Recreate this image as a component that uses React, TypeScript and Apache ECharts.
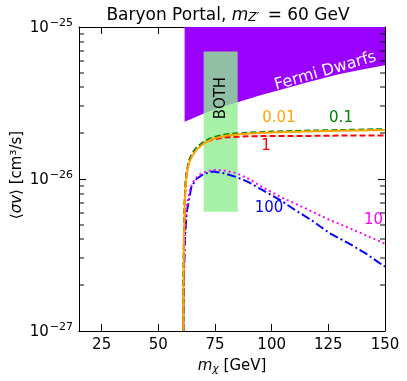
import React, { useEffect, useRef } from "react";
import * as echarts from "echarts";

const xTicks = [25, 50, 75, 100, 125, 150];
const yMinor = [2e-27, 3e-27, 4e-27, 5e-27, 6e-27, 7e-27, 8e-27, 9e-27, 2e-26, 3e-26, 4e-26, 5e-26, 6e-26, 7e-26, 8e-26, 9e-26];

// Fermi Dwarfs excluded region: lower boundary (filled to top)
const fermiBoundary: [number, number][] = [
  [61.6, 2.38e-26], [65, 2.5e-26], [69.6, 2.68e-26], [77, 2.95e-26], [85, 3.2e-26],
  [95, 3.55e-26], [103.6, 3.85e-26], [115, 4.3e-26], [130, 4.9e-26], [140, 5.25e-26], [150, 5.6e-26],
];
// BOTH band: [xmin, xmax, ymin, ymax]
const bothBand = [70, 85, 6.1e-27, 6.9e-26];

const curve001: [number, number][] = [
  [61.0, 1e-27], [61.1, 2e-27], [61.3, 4e-27], [61.6, 6.5e-27], [62.0, 9e-27], [62.5, 1.07e-26],
  [63.5, 1.27e-26], [65, 1.42e-26], [67, 1.57e-26], [70, 1.71e-26], [74, 1.84e-26], [80, 1.93e-26],
  [90, 1.99e-26], [100, 2.02e-26], [115, 2.05e-26], [130, 2.08e-26], [150, 2.1e-26],
];
const curve01: [number, number][] = [
  [61.0, 1e-27], [61.1, 2e-27], [61.3, 4.1e-27], [61.6, 6.7e-27], [62.0, 9.3e-27], [62.5, 1.1e-26],
  [63.5, 1.31e-26], [65, 1.47e-26], [67, 1.62e-26], [70, 1.76e-26], [74, 1.88e-26], [80, 1.97e-26],
  [90, 2.02e-26], [100, 2.05e-26], [115, 2.08e-26], [130, 2.1e-26], [150, 2.13e-26],
];
const curve1: [number, number][] = [
  [61.0, 1e-27], [61.1, 2.1e-27], [61.3, 4.2e-27], [61.6, 6.9e-27], [62.0, 9.5e-27], [62.5, 1.12e-26],
  [63.5, 1.32e-26], [65, 1.47e-26], [67, 1.61e-26], [70, 1.73e-26], [74, 1.82e-26], [80, 1.88e-26],
  [90, 1.91e-26], [100, 1.92e-26], [115, 1.92e-26], [130, 1.93e-26], [150, 1.93e-26],
];
const curve10: [number, number][] = [
  [61.0, 1e-27], [61.3, 2.5e-27], [61.8, 4.5e-27], [62.5, 6.5e-27], [64, 8.6e-27], [66, 1.0e-26],
  [68.3, 1.07e-26], [72, 1.13e-26], [75.6, 1.15e-26], [80, 1.13e-26], [84.5, 1.09e-26], [90, 1.0e-26],
  [95, 9.0e-27], [103.6, 7.66e-27], [115, 6.4e-27], [125.6, 5.37e-27], [135, 4.7e-27], [145, 4.05e-27], [150, 3.75e-27],
];
const curve100: [number, number][] = [
  [61.0, 1e-27], [61.3, 2.3e-27], [61.8, 4.2e-27], [62.5, 6e-27], [64.6, 8.9e-27], [66.8, 1.0e-26],
  [70, 1.08e-26], [74, 1.12e-26], [78, 1.1e-26], [84.5, 1.03e-26], [90, 9.5e-27], [95, 8.6e-27],
  [103.6, 7.3e-27], [110, 6.3e-27], [118, 5.3e-27], [125.6, 4.4e-27], [135, 3.7e-27], [142, 3.2e-27],
  [147.7, 2.79e-27], [150, 2.65e-27],
];

const FONT = "DejaVu Sans";
// y values are plotted in units of 1e-27 cm^3/s to avoid float-rounding trouble at tiny magnitudes
const UNIT = 1e-27;
const UNIT_EXP = -27;
const sc = (pts: [number, number][]) => pts.map(([x, y]) => [x, y / UNIT]);

export default function App() {
  const ref = useRef<HTMLDivElement>(null);
  useEffect(() => {
    if (!ref.current) return;
    const chart = echarts.init(ref.current, null, { renderer: "svg" });
    const XMIN = 15, XMAX = 150;
    const lineSeries = (name: string, data: [number, number][], color: string, type: any) => ({
      name, type: "line", data: sc(data), showSymbol: false, symbol: "none", z: 5, clip: true,
      lineStyle: { color, width: 2, type },
    });
    const supFmt = (v: number) => {
      const e = Math.round(Math.log10(v)) + UNIT_EXP;
      return `{b|10}{s|−${-e}}`;
    };
    const yCommon = {
      type: "log", logBase: 10, min: 1, max: 100,
      axisLine: { show: true, lineStyle: { color: "#000", width: 1 } },
      axisTick: { inside: true, length: 7, lineStyle: { color: "#000" } },
      splitLine: { show: false },
    };
    chart.setOption({
      animation: false,
      grid: { left: 79, right: 22, top: 27, bottom: 50 },
      xAxis: [
        {
          type: "value", min: XMIN, max: XMAX, position: "bottom",
          axisLine: { lineStyle: { color: "#000", width: 1 } },
          axisTick: { inside: true, length: 7, lineStyle: { color: "#000" }, customValues: xTicks },
          axisLabel: { color: "#000", fontSize: 15, fontFamily: FONT, margin: 5, customValues: xTicks },
          splitLine: { show: false },
        },
        {
          type: "value", min: XMIN, max: XMAX, position: "top",
          axisLine: { lineStyle: { color: "#000", width: 1 } },
          axisTick: { inside: true, length: 7, lineStyle: { color: "#000" }, customValues: xTicks },
          axisLabel: { show: false },
          splitLine: { show: false },
        },
      ],
      yAxis: [
        {
          ...yCommon, position: "left",
          axisLabel: {
            formatter: supFmt, margin: 6,
            rich: {
              b: { fontSize: 15, fontFamily: FONT, color: "#000" },
              s: { fontSize: 11, fontFamily: FONT, color: "#000", padding: [0, 0, 9, 1] },
            },
          },
        },
        { ...yCommon, position: "right", axisLabel: { show: false } },
      ],
      series: [
        {
          name: "Fermi", type: "line", data: sc(fermiBoundary), symbol: "none", z: 1,
          lineStyle: { width: 0 },
          areaStyle: { color: "#9b00ff", opacity: 1, origin: "end" },
        },
        {
          name: "BOTH", type: "custom", z: 2, clip: true,
          data: [[bothBand[0], bothBand[1], bothBand[2] / UNIT, bothBand[3] / UNIT]],
          encode: { x: [0, 1], y: [2, 3] },
          renderItem: (params: any, api: any) => {
            const p1 = api.coord([api.value(0), api.value(3)]);
            const p2 = api.coord([api.value(1), api.value(2)]);
            return {
              type: "rect",
              shape: { x: p1[0], y: p1[1], width: p2[0] - p1[0], height: p2[1] - p1[1] },
              style: { fill: "rgba(144,238,144,0.8)" },
            };
          },
        },
        {
          name: "minorTicks", type: "custom", z: 30,
          data: [[100, 10]],
          encode: { x: 0, y: 1 },
          renderItem: (params: any, api: any) => {
            const children: any[] = [];
            yMinor.forEach((m) => {
              const pL = api.coord([XMIN, m / UNIT]);
              const pR = api.coord([XMAX, m / UNIT]);
              const y = Math.round(pL[1]);
              children.push({ type: "rect", shape: { x: pL[0], y: y - 0.5, width: 5, height: 1 }, style: { fill: "#000" } });
              children.push({ type: "rect", shape: { x: pR[0] - 5, y: y - 0.5, width: 5, height: 1 }, style: { fill: "#000" } });
            });
            return { type: "group", children };
          },
        },
        lineSeries("100", curve100, "#0000ff", [9, 3, 2, 3]),
        lineSeries("10", curve10, "#ff00ff", [2, 3]),
        lineSeries("1", curve1, "#ff0000", [6, 3]),
        lineSeries("0.1", curve01, "#008000", [6, 3]),
        lineSeries("0.01", curve001, "#ffa500", "solid"),
      ],
      graphic: [
        {
          type: "text", x: 228, y: 14,
          style: {
            text: "{n|Baryon Portal, }{i|m}{sub|Z′}{n| = 60 GeV}",
            align: "center", verticalAlign: "middle",
            rich: {
              n: { fontSize: 17, fontFamily: FONT, fill: "#000" },
              i: { fontSize: 17, fontFamily: FONT, fontStyle: "italic", fill: "#000" },
              sub: { fontSize: 12, fontFamily: FONT, fontStyle: "italic", fill: "#000", padding: [6, 3, 0, 0] },
            },
          },
        },
        {
          type: "text", x: 232, y: 365,
          style: {
            text: "{i|m}{sub|χ}{n| [GeV]}",
            align: "center", verticalAlign: "middle",
            rich: {
              n: { fontSize: 15, fontFamily: FONT, fill: "#000" },
              i: { fontSize: 15, fontFamily: FONT, fontStyle: "italic", fill: "#000" },
              sub: { fontSize: 11, fontFamily: FONT, fontStyle: "italic", fill: "#000", padding: [6, 0, 0, 0] },
            },
          },
        },
        {
          type: "text", x: 16, y: 175, rotation: Math.PI / 2,
          style: {
            text: "{n|⟨}{i|σv}{n|⟩ [cm³/s]}",
            align: "center", verticalAlign: "middle",
            rich: {
              n: { fontSize: 15, fontFamily: FONT, fill: "#000" },
              i: { fontSize: 15, fontFamily: FONT, fontStyle: "italic", fill: "#000" },
            },
          },
        },
        {
          type: "text", x: 220, y: 98, rotation: Math.PI / 2, z: 10,
          style: { text: "BOTH", fontSize: 15, fontFamily: FONT, fill: "#000", align: "center", verticalAlign: "middle" },
        },
        {
          type: "text", x: 325, y: 70, rotation: (16 * Math.PI) / 180, z: 10,
          style: { text: "Fermi Dwarfs", fontSize: 16, fontFamily: FONT, fill: "#fff", align: "center", verticalAlign: "middle" },
        },
        { type: "text", x: 279, y: 117, z: 10, style: { text: "0.01", fontSize: 15, fontFamily: FONT, fill: "#ffa500", align: "center", verticalAlign: "middle" } },
        { type: "text", x: 341, y: 117, z: 10, style: { text: "0.1", fontSize: 15, fontFamily: FONT, fill: "#008000", align: "center", verticalAlign: "middle" } },
        { type: "text", x: 266, y: 145, z: 10, style: { text: "1", fontSize: 15, fontFamily: FONT, fill: "#ff0000", align: "center", verticalAlign: "middle" } },
        { type: "text", x: 269, y: 207, z: 10, style: { text: "100", fontSize: 15, fontFamily: FONT, fill: "#0000ff", align: "center", verticalAlign: "middle" } },
        { type: "text", x: 364, y: 219, z: 10, style: { text: "10", fontSize: 15, fontFamily: FONT, fill: "#ff00ff", align: "left", verticalAlign: "middle" } },
      ],
    });
    return () => chart.dispose();
  }, []);
  return <div ref={ref} style={{ position: "fixed", left: 0, top: 0, width: 407, height: 381 }} />;
}
